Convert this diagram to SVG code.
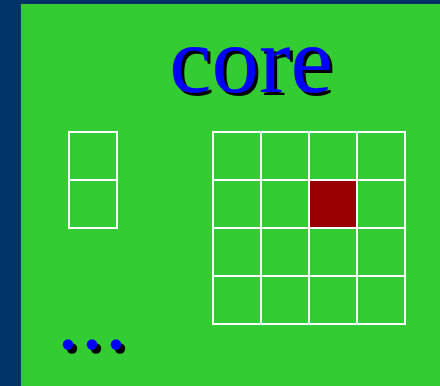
<svg xmlns="http://www.w3.org/2000/svg" width="440" height="386" viewBox="0 0 440 386">
<style>
.cell{fill:none;stroke:#ffffff;stroke-width:2}
.t{font-family:"Liberation Serif","Times New Roman",serif;font-size:95px;text-anchor:middle}
</style>
<rect x="0" y="0" width="440" height="386" fill="#003366"/>
<rect x="21" y="4" width="419" height="382" fill="#33cc33"/>
<g id="title">
<text class="t" x="254" y="95" fill="#000000">core</text>
<text class="t" x="251" y="92" fill="#0000ff">core</text>
</g>
<g id="small-grid">
<rect class="cell" x="69" y="132" width="48" height="48"/>
<rect class="cell" x="69" y="180" width="48" height="48"/>
</g>
<g id="big-grid">
<rect x="309" y="180" width="48" height="48" fill="#990000"/>
<rect class="cell" x="213" y="132" width="192" height="192"/>
<line class="cell" x1="261" y1="132" x2="261" y2="324"/>
<line class="cell" x1="309" y1="132" x2="309" y2="324"/>
<line class="cell" x1="357" y1="132" x2="357" y2="324"/>
<line class="cell" x1="213" y1="180" x2="405" y2="180"/>
<line class="cell" x1="213" y1="228" x2="405" y2="228"/>
<line class="cell" x1="213" y1="276" x2="405" y2="276"/>
</g>
<g id="dots">
<circle cx="72" cy="348.5" r="5.2" fill="#000"/>
<circle cx="96" cy="348.5" r="5.2" fill="#000"/>
<circle cx="120" cy="348.5" r="5.2" fill="#000"/>
<circle cx="68" cy="344.5" r="5.2" fill="#0000ff"/>
<circle cx="92" cy="344.5" r="5.2" fill="#0000ff"/>
<circle cx="116" cy="344.5" r="5.2" fill="#0000ff"/>
</g>
</svg>
